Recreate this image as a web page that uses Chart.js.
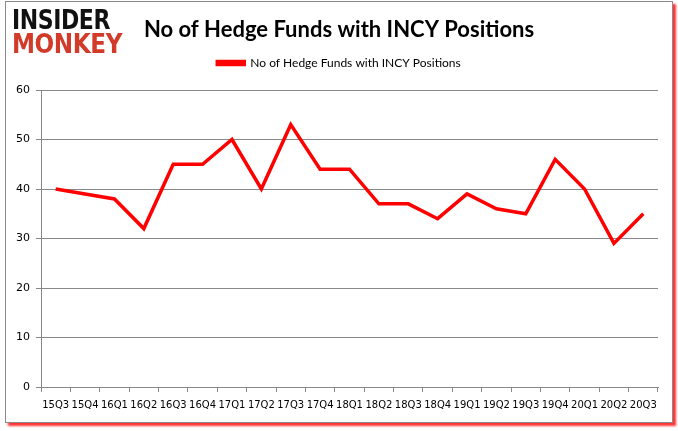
<!DOCTYPE html>
<html>
<head>
<meta charset="utf-8">
<script src="https://cdn.jsdelivr.net/npm/chart.js@4.4.1/dist/chart.umd.min.js"></script>
<style>
  html, body { margin: 0; padding: 0; background: #fff; }
  body { width: 678px; height: 431px; position: relative; overflow: hidden; }
  #frame { position: absolute; left: 5px; top: 1px; width: 666px; height: 420px;
           border: 1px solid #8a8a8a; box-shadow: 3px 3px 2px rgba(255,0,0,0.8); background: #fff; }
  #wrap { position: absolute; left: 0; top: 0; width: 678px; height: 431px; }
  .logo { position: absolute; left: 12px; font-family: "DejaVu Sans", sans-serif; font-weight: bold;
          letter-spacing: -0.5px; line-height: 1; transform-origin: 0 0; }
  #l1 { top: 7px; color: #111; font-size: 26px; }
  #l2 { top: 31px; color: #d23a2a; font-size: 26px; }
</style>
</head>
<body>
<div id="frame"></div>
<div id="wrap"><canvas id="c" width="678" height="431"></canvas></div>
<div class="logo" id="l1">INSIDER</div>
<div class="logo" id="l2">MONKEY</div>
<script>
const categories = ["15Q3","15Q4","16Q1","16Q2","16Q3","16Q4","17Q1","17Q2","17Q3","17Q4","18Q1","18Q2","18Q3","18Q4","19Q1","19Q2","19Q3","19Q4","20Q1","20Q2","20Q3"];
const hedgeFunds = [40,39,38,32,45,45,50,40,53,44,44,37,37,34,39,36,35,46,40,29,35];
const seriesName = "No of Hedge Funds with INCY Positions";
const chartTitle = "No of Hedge Funds with INCY Positions";
const yTicks = { min: 0, max: 60, step: 10 };

function fitLogo(id, w) {
  const el = document.getElementById(id);
  const r = el.getBoundingClientRect();
  el.style.transform = 'scale(' + (w / r.width) + ',1)';
}
fitLogo('l1', 98);
fitLogo('l2', 110);

new Chart(document.getElementById('c'), {
  type: 'line',
  data: {
    labels: categories,
    datasets: [{
      label: seriesName,
      data: hedgeFunds,
      borderColor: '#ff0000',
      backgroundColor: '#ff0000',
      borderWidth: 3.5,
      pointRadius: 0,
      tension: 0,
      fill: false,
      yAxisID: 'y'
    }]
  },
  options: {
    responsive: false,
    animation: false,
    devicePixelRatio: 1,
    layout: { padding: { left: 0, right: 0, top: 15, bottom: 14 } },
    plugins: {
      title: {
        display: true,
        text: chartTitle,
        color: '#000',
        font: { family: 'Lato', size: 22, weight: 'bold', lineHeight: 1.0 },
        padding: { top: 4, bottom: 0 }
      },
      subtitle: {
        display: true,
        text: ' ',
        weight: 500,
        font: { size: 1, lineHeight: 1 },
        padding: { top: 0, bottom: 10 }
      },
      legend: {
        display: true,
        labels: {
          color: '#000',
          font: { family: 'Lato', size: 12 },
          boxWidth: 27,
          boxHeight: 3,
          padding: 16
        }
      },
      tooltip: { enabled: false }
    },
    scales: {
      x: {
        offset: true,
        grid: { display: true, drawOnChartArea: false, offset: true, color: '#888', tickLength: 5, tickColor: '#888' },
        border: { color: '#888', width: 1 },
        ticks: { autoSkip: false, maxRotation: 0, minRotation: 0, color: '#000', padding: 7,
                 font: { family: 'DejaVu Sans', size: 10 } },
        afterFit: s => { s.height = 30; }
      },
      y: {
        min: yTicks.min, max: yTicks.max,
        ticks: { stepSize: yTicks.step, color: '#000', padding: 6, font: { family: 'DejaVu Sans', size: 11 } },
        grid: { color: '#888', tickLength: 5, tickColor: '#888' },
        border: { color: '#888', width: 1 },
        afterFit: s => { s.width = 41; }
      },
      yRightSpace: {
        position: 'right',
        min: yTicks.min, max: yTicks.max,
        grid: { display: false },
        border: { display: false },
        ticks: { display: false },
        afterFit: s => { s.width = 20; }
      }
    }
  }
});
</script>
</body>
</html>
